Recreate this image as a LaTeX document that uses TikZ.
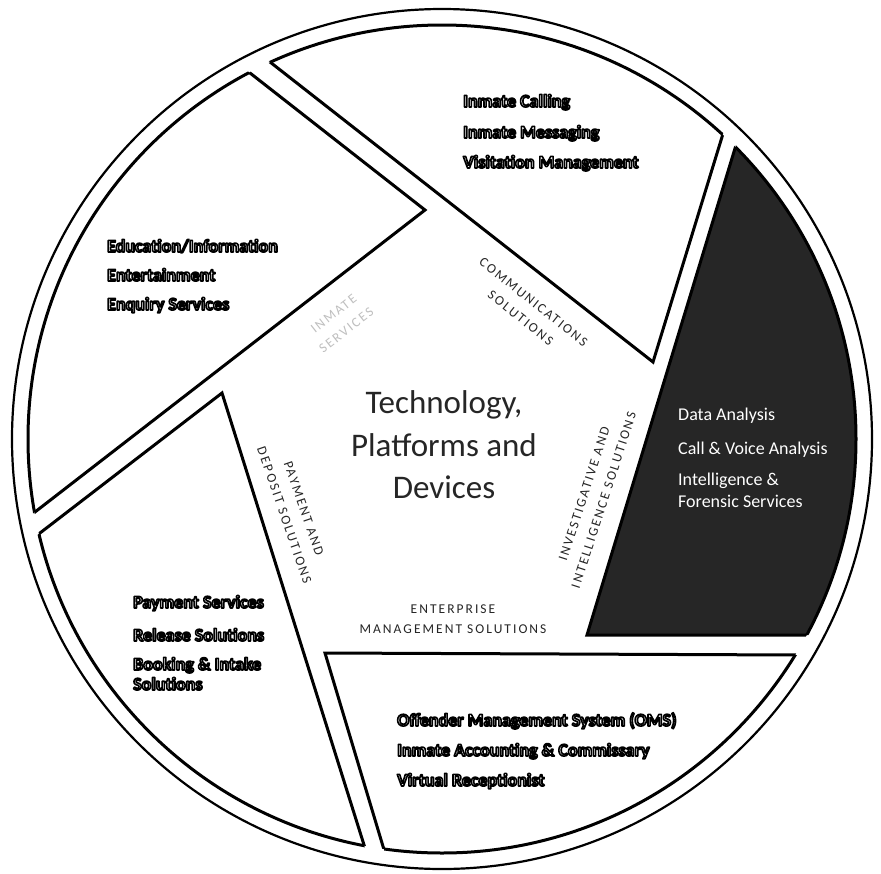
\documentclass[tikz,border=0pt]{standalone}
\usepackage{fontspec}
\setmainfont{Carlito}
\newfontfamily\labelfont[LetterSpace=15]{Carlito}
\usetikzlibrary{calc}
\newcommand\halo[1]{\special{pdf:code 0 G 2 Tr 1.6 w 1 j}#1\special{pdf:code 0 Tr}}
\newcommand\drawseg[4]{%
  \begin{scope}
    \clip (O) circle (414pt);
    \filldraw[fill=#4, draw=black, line width=3pt, line join=miter]
      (#1) -- ($(#1)!1500pt!(#2)$) -- ($(#1)!1500pt!(#3)$) -- cycle;
  \end{scope}
  \begin{scope}
    \clip (#1) -- ($(#1)!1500pt!(#2)$) -- ($(#1)!1500pt!(#3)$) -- cycle;
    \draw[line width=3pt] (O) circle (414pt);
  \end{scope}}
\begin{document}
\begin{tikzpicture}[x=1pt,y=-1pt,
  item/.style={anchor=base west, inner sep=0pt, text=white,
    font=\fontsize{18}{20}\selectfont\bfseries},
  ditem/.style={anchor=base west, inner sep=0pt, text=white,
    font=\fontsize{18}{20}\selectfont},
  centertext/.style={anchor=base, inner sep=0pt, text=black!85,
    font=\fontsize{33}{40}\selectfont},
  seglabel/.style={align=center, inner sep=0pt, text=black!85,
    font=\labelfont\fontsize{13.5}{20.5}\selectfont}]
\useasboundingbox (0,0) rectangle (881,873);
\fill[white] (0,0) rectangle (881,873);
\coordinate (O) at (442,439);
\draw[line width=2.2pt] (O) circle (430pt);

% segment corners and edge directions
\coordinate (p1) at (425,210); \coordinate (s1) at (250,73);  \coordinate (l1) at (35,512);
\coordinate (p2) at (653,362); \coordinate (s2) at (722,137); \coordinate (l2) at (270,62);
\coordinate (p3) at (587,635); \coordinate (s3) at (808,635); \coordinate (l3) at (733,155);
\coordinate (p4) at (325,653); \coordinate (s4) at (385,853); \coordinate (l4) at (798,655);
\coordinate (p5) at (222,393); \coordinate (s5) at (40,533);  \coordinate (l5) at (365,848);

\drawseg{p1}{s1}{l1}{white}
\drawseg{p2}{s2}{l2}{white}
\drawseg{p3}{s3}{l3}{black!85}
\drawseg{p4}{s4}{l4}{white}
\drawseg{p5}{s5}{l5}{white}

% centre
\node[centertext] (c1) at (444,413) {Technology,};
\node[centertext] (c2) at (444,456) {Platforms and};
\node[centertext] (c3) at (444,498) {Devices};

% segment labels
\node[seglabel, rotate=-38.5] (lab2) at (527,310) {COMMUNICATIONS\\SOLUTIONS};
\node[seglabel, rotate=72] (lab3) at (594,497) {INVESTIGATIVE AND\\INTELLIGENCE SOLUTIONS};
\node[seglabel] (lab4) at (453,619) {ENTERPRISE\\MANAGEMENT SOLUTIONS};
\node[seglabel, rotate=-71] (lab5) at (294,512) {PAYMENT AND\\DEPOSIT SOLUTIONS};
\node[seglabel, rotate=38, text=black!25] (lab1) at (340,322) {INMATE\\SERVICES};

% investigative (white on dark)
\node[ditem] (d1) at (678,420) {Data Analysis};
\node[ditem] (d2) at (678,454) {Call \& Voice Analysis};
\node[ditem] (d3) at (678,485) {Intelligence \&};
\node[ditem] (d4) at (678,507) {Forensic Services};

% items: upper-left
\node[item] (a1) at (107,252) {\halo{Education/Information}};
\node[item] (a2) at (107,281) {\halo{Entertainment}};
\node[item] (a3) at (107,310) {\halo{Enquiry Services}};
% communications
\node[item] (b1) at (463,107) {\halo{Inmate Calling}};
\node[item] (b2) at (463,138) {\halo{Inmate Messaging}};
\node[item] (b3) at (463,168) {\halo{Visitation Management}};
% enterprise
\node[item] (e1) at (397,726) {\halo{Offender Management System (OMS)}};
\node[item] (e2) at (397,756) {\halo{Inmate Accounting \& Commissary}};
\node[item] (e3) at (397,786) {\halo{Virtual Receptionist}};
% payment
\node[item] (f1) at (133,608) {\halo{Payment Services}};
\node[item] (f2) at (133,641) {\halo{Release Solutions}};
\node[item] (f3) at (133,670) {\halo{Booking \& Intake}};
\node[item] (f4) at (133,690) {\halo{Solutions}};
\end{tikzpicture}
\end{document}
